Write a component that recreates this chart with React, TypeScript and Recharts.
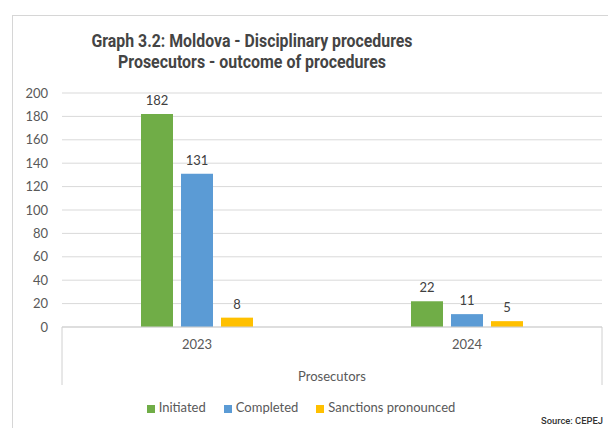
import React from 'react';
import { BarChart, Bar, XAxis, YAxis, CartesianGrid, Legend, LabelList } from 'recharts';

const categories = ['2023', '2024'];
const initiated = [182, 22];
const completed = [131, 11];
const sanctions = [8, 5];
const yTicks = [0, 20, 40, 60, 80, 100, 120, 140, 160, 180, 200];
const seriesOrder = ['Initiated', 'Completed', 'Sanctions pronounced'];

const data = categories.map((c, i) => ({
  year: c,
  Initiated: initiated[i],
  Completed: completed[i],
  'Sanctions pronounced': sanctions[i],
}));

const FONT = 'Lato, "Open Sans", sans-serif';
const GRAY = '#595959';

const AxisBox = (props: any) => {
  const vb = props.viewBox || {};
  const x = vb.x ?? 0;
  const y = vb.y ?? 0;
  const w = vb.width ?? 0;
  return (
    <g>
      <line x1={x} y1={y} x2={x} y2={y + 58} stroke="#d0d0d0" strokeWidth={1} />
      <line x1={x + w} y1={y} x2={x + w} y2={y + 58} stroke="#d0d0d0" strokeWidth={1} />
      <text x={x + w / 2} y={y + 54} textAnchor="middle" fill={GRAY} fontSize={13} fontFamily={FONT}>
        Prosecutors
      </text>
    </g>
  );
};

export default function App() {
  return (
    <div style={{ position: 'fixed', left: 0, top: 0, width: 608, height: 428, background: '#fff', overflow: 'hidden' }}>
      <div
        style={{
          position: 'absolute',
          left: 12,
          top: 15,
          width: 600,
          height: 420,
          borderTop: '1px solid #d6d6d6',
          borderLeft: '1px solid #d6d6d6',
        }}
      />
      <svg width={608} height={428} style={{ position: 'absolute', left: 0, top: 0 }}>
        <text x={252} y={47} textAnchor="middle" fontFamily="Roboto, sans-serif" fontWeight={700} fontSize={18}
          fill="#444" textLength={321} lengthAdjust="spacingAndGlyphs">
          Graph 3.2: Moldova - Disciplinary procedures
        </text>
        <text x={252} y={68} textAnchor="middle" fontFamily="Roboto, sans-serif" fontWeight={700} fontSize={18}
          fill="#444" textLength={268} lengthAdjust="spacingAndGlyphs">
          Prosecutors - outcome of procedures
        </text>
        <text x={603} y={424} textAnchor="end" fontFamily="Roboto, sans-serif" fontWeight={500} fontSize={9.5}
          fill="#333" textLength={62} lengthAdjust="spacingAndGlyphs">
          Source: CEPEJ
        </text>
      </svg>
      <div style={{ position: 'absolute', left: 0, top: 0 }}>
        <BarChart
          width={608}
          height={428}
          data={data}
          margin={{ top: 93, right: 6, bottom: 0, left: 12 }}
          barSize={32}
          barGap={8}
        >
          <CartesianGrid vertical={false} stroke="#d9d9d9" />
          <YAxis
            width={50}
            domain={[0, 200]}
            ticks={yTicks}
            axisLine={false}
            tickLine={false}
            tickMargin={8}
            tick={{ fill: GRAY, fontSize: 13, fontFamily: FONT }}
            interval={0}
          />
          <XAxis
            dataKey="year"
            height={61}
            axisLine={{ stroke: '#d0d0d0' }}
            tickLine={false}
            tickMargin={7}
            tick={{ fill: GRAY, fontSize: 13, fontFamily: FONT }}
            label={<AxisBox />}
          />
          <Legend
            verticalAlign="bottom"
            align="center"
            iconType="square"
            iconSize={8}
            itemSorter={(item: any) => seriesOrder.indexOf(item.value)}
            wrapperStyle={{ height: 40, boxSizing: 'border-box', paddingTop: 11, paddingLeft: 6, fontSize: 13, fontFamily: FONT }}
            formatter={(v: any) => <span style={{ color: GRAY, marginRight: 8 }}>{v}</span>}
          />
          <Bar dataKey="Initiated" fill="#70AD47" isAnimationActive={false}>
            <LabelList dataKey="Initiated" position="top" offset={9} fill="#404040" fontSize={13} fontFamily={FONT} />
          </Bar>
          <Bar dataKey="Completed" fill="#5B9BD5" isAnimationActive={false}>
            <LabelList dataKey="Completed" position="top" offset={9} fill="#404040" fontSize={13} fontFamily={FONT} />
          </Bar>
          <Bar dataKey="Sanctions pronounced" fill="#FFC000" isAnimationActive={false}>
            <LabelList dataKey="Sanctions pronounced" position="top" offset={9} fill="#404040" fontSize={13} fontFamily={FONT} />
          </Bar>
        </BarChart>
      </div>
    </div>
  );
}
